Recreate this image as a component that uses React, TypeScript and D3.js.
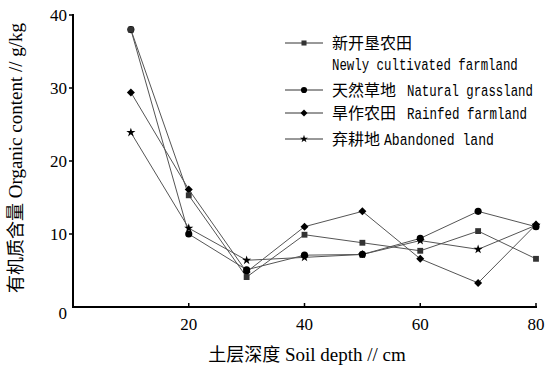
import React from 'react';
import * as d3 from 'd3';

// soil depth (cm)
const depths = [10, 20, 30, 40, 50, 60, 70, 80];

const newlyCultivated = [38.0, 15.3, 4.1, 9.9, 8.8, 7.7, 10.4, 6.6];
const naturalGrassland = [38.0, 10.0, 5.1, 7.1, 7.2, 9.4, 13.1, 11.0];
const rainfedFarmland = [29.4, 16.1, 4.8, 11.0, 13.1, 6.6, 3.3, 11.3];
const abandonedLand = [23.9, 10.8, 6.4, 6.8, 7.2, 9.1, 7.9, 11.2];

const xTicks = [20, 40, 60, 80];
const yTicks = [0, 10, 20, 30, 40];

const series = [
  { zh: '天然草地', en: 'Natural grassland', values: naturalGrassland, marker: 'circle' },
  { zh: '旱作农田', en: 'Rainfed farmland', values: rainfedFarmland, marker: 'diamond' },
  { zh: '弃耕地', en: 'Abandoned land', values: abandonedLand, marker: 'star' },
  { zh: '新开垦农田', en: 'Newly cultivated farmland', values: newlyCultivated, marker: 'square' },
];

const legendOrder = ['square', 'circle', 'diamond', 'star'];

const width = 548;
const height = 367;
const left = 73;
const right = 536;
const top = 15;
const bottom = 307;

const serif = '"Liberation Serif", "Times New Roman", serif';
const cjk = '"Noto Sans CJK SC", sans-serif';
const mono = '"Liberation Mono", monospace';

const markerPath = (m: string, scale = 1) => {
  if (m === 'circle') return d3.symbol(d3.symbolCircle, 40 * scale)()!;
  if (m === 'square') return d3.symbol(d3.symbolSquare, 34 * scale)()!;
  if (m === 'star') return d3.symbol(d3.symbolStar, 26 * scale)()!;
  return d3.symbol(d3.symbolSquare, 32 * scale)()!;
};

const Marker = ({ m, x, y, scale = 1 }: { m: string; x: number; y: number; scale?: number }) => (
  <path
    d={markerPath(m, scale)}
    transform={`translate(${x},${y})${m === 'diamond' ? ' rotate(45)' : ''}`}
    fill={m === 'square' ? '#333' : '#000'}
  />
);

export default function App() {
  const x = d3.scaleLinear().domain([0, 80]).range([left, right]);
  const y = d3.scaleLinear().domain([0, 40]).range([bottom, top]);
  const line = d3
    .line<number>()
    .x((_, i) => x(depths[i]))
    .y((d) => y(d));

  // legend layout: row y, english x start / width / extra dy
  const legendRows = [43, 90, 113, 139];
  const enBox: Record<string, [number, number, number]> = {
    square: [332, 186, 21],
    circle: [407, 126, 0],
    diamond: [407, 120, 0],
    star: [384, 110, 0],
  };
  const enSize = 17;

  return (
    <svg
      width={width}
      height={height}
      style={{ position: 'absolute', left: 0, top: 0, background: '#fff' }}
    >
      {/* axes */}
      <line x1={left} x2={right + 1} y1={bottom} y2={bottom} stroke="#000" strokeWidth={2} />
      <line x1={left} x2={left} y1={top - 1} y2={bottom + 1} stroke="#000" strokeWidth={2} />
      {yTicks.map((t) => (
        <g key={'y' + t}>
          {t > 0 && <line x1={left - 4} x2={left} y1={y(t)} y2={y(t)} stroke="#000" strokeWidth={1.5} />}
          <text
            x={left - 6}
            y={y(t) + (t === 0 ? 12 : 6)}
            textAnchor="end"
            fontFamily={serif}
            fontSize={17}
          >
            {t}
          </text>
        </g>
      ))}
      {xTicks.map((t) => (
        <g key={'x' + t}>
          <line x1={x(t)} x2={x(t)} y1={bottom - 4} y2={bottom} stroke="#000" strokeWidth={1.5} />
          <text x={x(t)} y={bottom + 23} textAnchor="middle" fontFamily={serif} fontSize={17}>
            {t}
          </text>
        </g>
      ))}

      {/* axis titles */}
      <text x={307} y={361} textAnchor="middle">
        <tspan fontFamily={cjk} fontSize={18}>土层深度</tspan>
        <tspan fontFamily={serif} fontSize={19}> Soil depth // cm</tspan>
      </text>
      <text transform="translate(22,158) rotate(-90)" textAnchor="middle">
        <tspan fontFamily={cjk} fontSize={18}>有机质含量</tspan>
        <tspan fontFamily={serif} fontSize={19}> Organic content // g/kg</tspan>
      </text>

      {/* series */}
      {series.map((s) => (
        <path key={s.en + 'l'} d={line(s.values)!} fill="none" stroke="#555" strokeWidth={1} />
      ))}
      {series.map((s) =>
        s.values.map((v, i) => <Marker key={s.en + i} m={s.marker} x={x(depths[i])} y={y(v)} />)
      )}

      {/* legend */}
      {legendOrder.map((m, i) => {
        const s = series.find((d) => d.marker === m)!;
        const ly = legendRows[i];
        const [ex, ew, dy] = enBox[m];
        const sx = ew / (0.6 * enSize * s.en.length);
        return (
          <g key={'lg' + m}>
            <line x1={285} x2={323} y1={ly} y2={ly} stroke="#333" strokeWidth={1} />
            <Marker m={m} x={304} y={ly} scale={0.75} />
            <text x={332} y={ly + 6} fontFamily={cjk} fontSize={16}>
              {s.zh}
            </text>
            <text
              transform={`translate(${ex},${ly + 6 + dy}) scale(${sx},1)`}
              fontFamily={mono}
              fontSize={enSize}
            >
              {s.en}
            </text>
          </g>
        );
      })}
    </svg>
  );
}
